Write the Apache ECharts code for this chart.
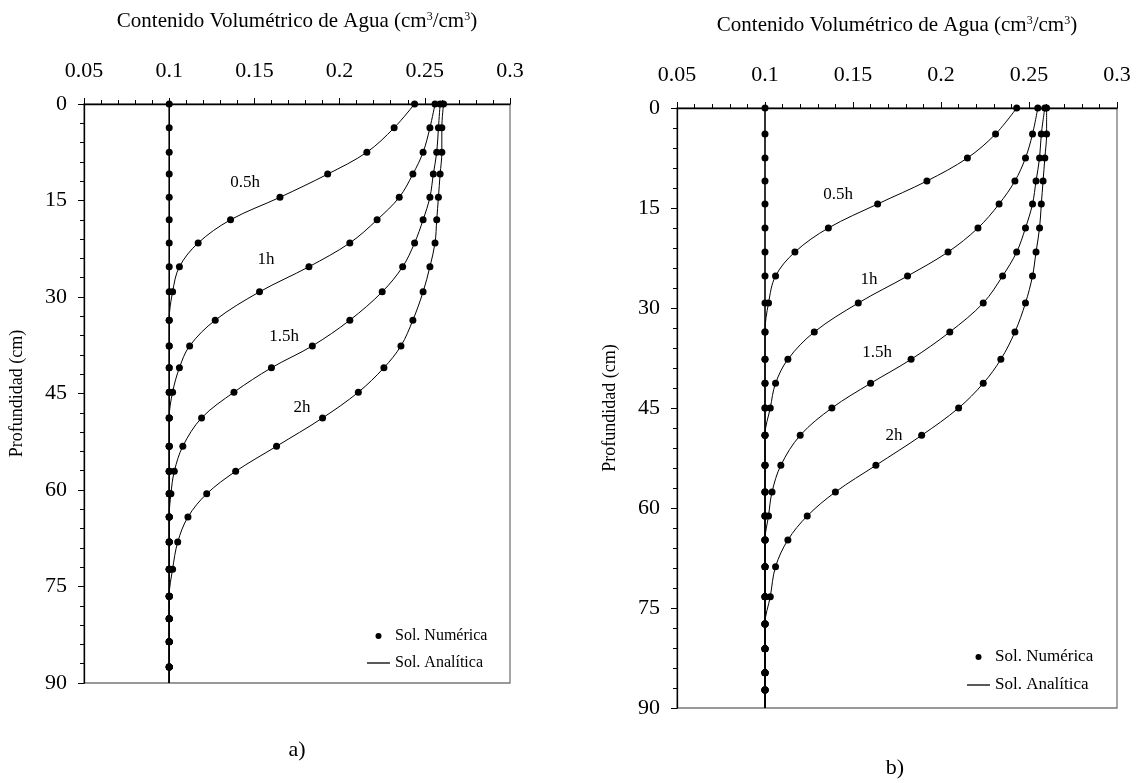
<!DOCTYPE html>
<html><head><meta charset="utf-8">
<script src="https://cdn.jsdelivr.net/npm/echarts@6/dist/echarts.min.js"></script>
<style>html,body{margin:0;padding:0;background:#fff}#c{width:1142px;height:783px}</style>
</head><body><div id="c"></div>
<script>
// Depth (cm) of the numerical nodes
const depthsA = [0, 3.7, 7.5, 10.9, 14.5, 18.0, 21.6, 25.3, 29.2, 33.6, 37.6, 41.0, 44.8, 48.8, 53.2, 57.1, 60.6, 64.2, 68.1, 72.3, 76.5, 80.0, 83.6, 87.5];
const depthsB = [0, 3.9, 7.5, 10.95, 14.4, 18.0, 21.6, 25.2, 29.25, 33.6, 37.7, 41.3, 45.0, 49.1, 53.6, 57.6, 61.2, 64.8, 68.8, 73.3, 77.4, 81.1, 84.7, 87.3];
const bottomDepth = 90;
const initialTheta = 0.1;

// Panel a) water content (cm3/cm3)
const a_t0  = [0.1,0.1,0.1,0.1,0.1,0.1,0.1,0.1,0.1,0.1,0.1,0.1,0.1,0.1,0.1,0.1,0.1,0.1,0.1,0.1,0.1,0.1,0.1,0.1];
const a_t05 = [0.244,0.232,0.216,0.193,0.165,0.136,0.117,0.106,0.102,0.1,0.1,0.1,0.1,0.1,0.1,0.1,0.1,0.1,0.1,0.1,0.1,0.1,0.1,0.1];
const a_t1  = [0.256,0.253,0.249,0.243,0.235,0.222,0.206,0.182,0.153,0.127,0.112,0.106,0.102,0.1,0.1,0.1,0.1,0.1,0.1,0.1,0.1,0.1,0.1,0.1];
const a_t15 = [0.259,0.258,0.257,0.255,0.253,0.249,0.244,0.237,0.225,0.206,0.184,0.160,0.138,0.119,0.108,0.103,0.101,0.1,0.1,0.1,0.1,0.1,0.1,0.1];
const a_t2  = [0.261,0.260,0.260,0.259,0.258,0.257,0.256,0.253,0.249,0.243,0.236,0.226,0.211,0.190,0.163,0.139,0.122,0.111,0.105,0.102,0.1,0.1,0.1,0.1];

// Panel b)
const b_t0  = [0.1,0.1,0.1,0.1,0.1,0.1,0.1,0.1,0.1,0.1,0.1,0.1,0.1,0.1,0.1,0.1,0.1,0.1,0.1,0.1,0.1,0.1,0.1,0.1];
const b_t05 = [0.243,0.231,0.215,0.192,0.164,0.136,0.117,0.106,0.102,0.1,0.1,0.1,0.1,0.1,0.1,0.1,0.1,0.1,0.1,0.1,0.1,0.1,0.1,0.1];
const b_t1  = [0.255,0.252,0.248,0.242,0.233,0.221,0.204,0.181,0.153,0.128,0.113,0.106,0.103,0.1,0.1,0.1,0.1,0.1,0.1,0.1,0.1,0.1,0.1,0.1];
const b_t15 = [0.259,0.257,0.256,0.254,0.252,0.248,0.243,0.235,0.224,0.205,0.183,0.160,0.138,0.120,0.109,0.104,0.102,0.1,0.1,0.1,0.1,0.1,0.1,0.1];
const b_t2  = [0.260,0.260,0.259,0.258,0.257,0.256,0.254,0.252,0.248,0.242,0.234,0.224,0.210,0.189,0.163,0.140,0.124,0.113,0.106,0.103,0.1,0.1,0.1,0.1];

const curveLabels = ['0.5h', '1h', '1.5h', '2h'];
const xTickLabels = ['0.05', '0.1', '0.15', '0.2', '0.25', '0.3'];
const yTickLabels = ['0', '15', '30', '45', '60', '75', '90'];
const xTitle = 'Contenido Volumétrico de Agua (cm{s|3}/cm{s|3})';
const yTitle = 'Profundidad (cm)';
const legendNames = ['Sol. Numérica', 'Sol. Analítica'];
const panelTags = ['a)', 'b)'];

const FONT = '"Liberation Serif", "Times New Roman", serif';

function pts(depths, vals) { return vals.map((v, i) => [v, depths[i]]); }
function linePts(depths, vals) { return pts(depths, vals).concat([[initialTheta, bottomDepth]]); }

const grids = [
  { left: 84, top: 104, width: 426, height: 579 },
  { left: 677, top: 108, width: 440, height: 600 }
];

function xAx(i) {
  return {
    type: 'value', gridIndex: i, position: 'top', min: 0.05, max: 0.3, interval: 0.05,
    name: xTitle, nameLocation: 'middle', nameGap: 72,
    nameTextStyle: { fontFamily: FONT, fontSize: 21, color: '#000',
      rich: { s: { fontFamily: FONT, fontSize: 12, verticalAlign: 'top', lineHeight: 12, padding: [0, 0, 14, 0] } } },
    axisLine: { show: true, lineStyle: { color: '#000', width: 1.3 } },
    axisTick: { show: true, inside: false, length: 6, lineStyle: { color: '#000', width: 1 } },
    minorTick: { show: true, splitNumber: 5, length: 4, lineStyle: { color: '#000', width: 1 } },
    splitLine: { show: false },
    axisLabel: { margin: 22, fontFamily: FONT, fontSize: 22, color: '#000',
      formatter: (v) => { const idx = Math.round((v - 0.05) / 0.05); return xTickLabels[idx] ?? ''; } }
  };
}
function yAx(i) {
  return {
    type: 'value', gridIndex: i, inverse: true, min: 0, max: 90, interval: 15,
    name: yTitle, nameLocation: 'middle', nameGap: 58, nameRotate: 90,
    nameTextStyle: { fontFamily: FONT, fontSize: 18, color: '#000' },
    axisLine: { show: true, lineStyle: { color: '#000', width: 1.3 } },
    axisTick: { show: true, inside: false, length: 6, lineStyle: { color: '#000', width: 1 } },
    minorTick: { show: true, splitNumber: 5, length: 4, lineStyle: { color: '#000', width: 1 } },
    splitLine: { show: false },
    axisLabel: { margin: 17, fontFamily: FONT, fontSize: 22, color: '#000',
      formatter: (v) => yTickLabels[Math.round(v / 15)] ?? '' }
  };
}

const series = [];
[[depthsA, [a_t0, a_t05, a_t1, a_t15, a_t2]], [depthsB, [b_t0, b_t05, b_t1, b_t15, b_t2]]].forEach(([d, curves], gi) => {
  curves.forEach((vals, ci) => {
    series.push({
      type: 'line', name: legendNames[1], xAxisIndex: gi, yAxisIndex: gi,
      data: linePts(d, vals), smooth: 0.35, symbol: 'none', showSymbol: false, silent: true,
      lineStyle: { color: '#000', width: ci === 0 ? 1.6 : 1 }, itemStyle: { color: '#000' }, z: 2
    });
  });
  curves.forEach((vals) => {
    series.push({
      type: 'scatter', name: legendNames[0], xAxisIndex: gi, yAxisIndex: gi,
      data: pts(d, vals), symbol: 'circle', symbolSize: 7, silent: true,
      itemStyle: { color: '#000', opacity: 1 }, z: 3
    });
  });
});

const labelPos = [
  [[245, 183], [266, 260], [284, 337], [302, 408]],
  [[838, 195], [869, 280], [877, 353], [894, 436]]
];
const graphic = [];
labelPos.forEach((panel) => panel.forEach((p, i) => {
  graphic.push({ type: 'text', x: p[0], y: p[1], silent: true,
    style: { text: curveLabels[i], font: '17px ' + FONT, fill: '#000', textAlign: 'center', textVerticalAlign: 'middle' } });
}));
graphic.push({ type: 'text', x: 297, y: 750, style: { text: panelTags[0], font: '22px ' + FONT, fill: '#000', textAlign: 'center', textVerticalAlign: 'middle' } });
graphic.push({ type: 'text', x: 895, y: 768, style: { text: panelTags[1], font: '22px ' + FONT, fill: '#000', textAlign: 'center', textVerticalAlign: 'middle' } });

function legend(left, top, gap, fs) {
  return {
    left, top, orient: 'vertical', itemWidth: 23, itemHeight: 6, itemGap: gap, selectedMode: false,
    data: [
      { name: legendNames[0], icon: 'circle', itemStyle: { color: '#000', opacity: 1 } },
      { name: legendNames[1], icon: 'path://M0,0H23V1.3H0Z', itemStyle: { color: '#000' } }
    ],
    textStyle: { fontFamily: FONT, fontSize: fs, color: '#000', lineHeight: 18 }, padding: 0
  };
}

const chart = echarts.init(document.getElementById('c'), null, { renderer: 'canvas' });
chart.setOption({
  animation: false,
  backgroundColor: '#fff',
  grid: grids.map(g => Object.assign({ show: true, borderColor: '#777', borderWidth: 1.3, backgroundColor: 'transparent', outerBoundsMode: 'none', containLabel: false }, g)),
  xAxis: [xAx(0), xAx(1)],
  yAxis: [yAx(0), yAx(1)],
  legend: [legend(367, 627, 9, 16), legend(967, 648, 10, 17)],
  series,
  graphic
});
</script></body></html>
